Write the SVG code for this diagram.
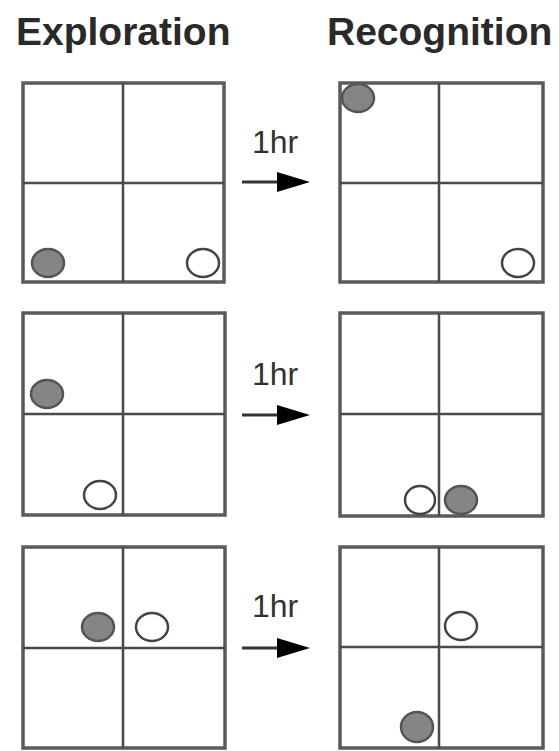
<svg xmlns="http://www.w3.org/2000/svg" width="559" height="751" viewBox="0 0 559 751">
<style>
.title{font-family:"Liberation Sans",Arial,sans-serif;font-weight:bold;font-size:39px;fill:#2a2a2a}
.lbl{font-family:"Liberation Sans",Arial,sans-serif;font-size:32px;fill:#333;text-anchor:middle}
.box{fill:#fff;stroke:#5a5a5a;stroke-width:3.5}
.grid{stroke:#4a4a4a;stroke-width:2.5;fill:none}
.g{fill:#858585;stroke:#555;stroke-width:2.5}
.w{fill:#fff;stroke:#444;stroke-width:2.5}
.arr{stroke:#333;stroke-width:3;fill:none}
.head{fill:#000}
</style>
<rect width="559" height="751" fill="#fff"/>
<text class="title" x="16" y="45">Exploration</text>
<text class="title" x="327" y="45">Recognition</text>

<g id="exp1">
<rect class="box" x="23" y="83" width="201" height="199"/>
<path class="grid" d="M123 83V282M23 183H224"/>
<ellipse class="g" cx="48" cy="263" rx="16" ry="14"/>
<ellipse class="w" cx="203" cy="263" rx="16" ry="14"/>
</g>
<g id="rec1">
<rect class="box" x="340" y="83" width="203" height="199"/>
<path class="grid" d="M439 83V282M340 183H543"/>
<ellipse class="g" cx="358" cy="98" rx="16" ry="14"/>
<ellipse class="w" cx="518" cy="263" rx="16" ry="14"/>
</g>

<g id="exp2">
<rect class="box" x="23" y="313" width="202" height="202"/>
<path class="grid" d="M123 313V515M23 414H225"/>
<ellipse class="g" cx="47" cy="394" rx="16" ry="14"/>
<ellipse class="w" cx="100" cy="495" rx="16" ry="14"/>
</g>
<g id="rec2">
<rect class="box" x="340" y="313" width="203" height="203"/>
<path class="grid" d="M439 313V516M340 414H543"/>
<ellipse class="w" cx="420" cy="500" rx="15" ry="14"/>
<ellipse class="g" cx="461" cy="500" rx="16" ry="14"/>
</g>

<g id="exp3">
<rect class="box" x="23" y="547" width="202" height="201"/>
<path class="grid" d="M123 547V748M23 648H225"/>
<ellipse class="g" cx="98" cy="627" rx="16" ry="14"/>
<ellipse class="w" cx="152" cy="627" rx="16" ry="14"/>
</g>
<g id="rec3">
<rect class="box" x="340" y="547" width="203" height="201"/>
<path class="grid" d="M439 547V748M340 647H543"/>
<ellipse class="w" cx="461" cy="626" rx="16" ry="14"/>
<ellipse class="g" cx="417" cy="727" rx="16" ry="15"/>
</g>

<g id="connectors">
<text class="lbl" x="275" y="153">1hr</text>
<line class="arr" x1="242" y1="182" x2="280" y2="182"/>
<polygon class="head" points="277,172 310,182 277,192"/>
<text class="lbl" x="275" y="385">1hr</text>
<line class="arr" x1="242" y1="415" x2="280" y2="415"/>
<polygon class="head" points="277,405 310,415 277,425"/>
<text class="lbl" x="275" y="617">1hr</text>
<line class="arr" x1="242" y1="648" x2="280" y2="648"/>
<polygon class="head" points="277,638 310,648 277,658"/>
</g>
</svg>
